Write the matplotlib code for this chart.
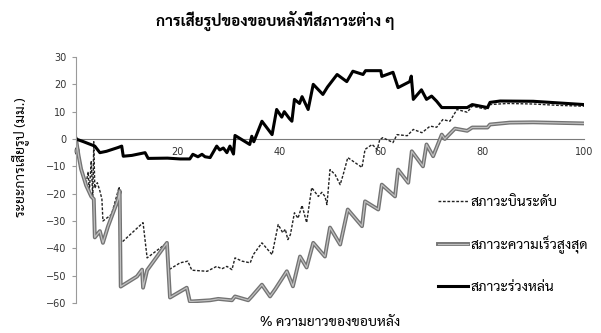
import matplotlib
matplotlib.use("Agg")
import matplotlib.pyplot as plt
import matplotlib.patheffects as pe

thai = ["Sarabun", "DejaVu Sans"]

# % of trailing-edge length vs. deformation (mm) for three flight conditions
level_x = [0, 0.5, 1, 1.5, 2, 2.4, 2.6, 3, 3.3, 3.5, 3.7, 4.2, 4.7, 5.1, 5.3, 7,
           8.5, 8.7, 8.9, 13.2, 14, 17.9, 18.3, 20.5, 22, 22.8, 25.8, 27.7, 28.7,
           29.7, 30.7, 31.3, 32.7, 34.3, 34.9, 36.6, 38.6, 39.8, 40.7, 41.2, 41.7,
           42.2, 43, 43.7, 44.5, 45.4, 46.4, 47.7, 48.4, 49, 49.4, 50, 51, 52,
           52.6, 53.5, 56.3, 56.9, 58.3, 59.3, 59.8, 60.4, 62.4, 63.2, 65.2, 66.4,
           68.1, 69.7, 71, 72.2, 73.6, 75, 77, 78, 81, 81.5, 85, 90, 95, 100]
level_y = [0, -5, -10, -14, -16, -12, -20, -8, -22, -1, -18, -16, -19, -22, -30,
           -27.6, -17.5, -26, -38, -30.6, -43.5, -38, -47.8, -45.3, -44.7, -48,
           -48.4, -46.6, -47.5, -46.6, -47.8, -43.5, -44.7, -45.3, -42.3, -38,
           -42.3, -31.3, -34.3, -33, -36.8, -35, -27, -29, -24.3, -30.6, -17.8,
           -21, -19.5, -21, -24, -11.2, -13, -16.7, -13, -6.8, -10.4, -3.8, -2,
           -3.8, -0.2, 0.5, -1.3, 1.6, 1.2, 3.5, 2.3, 4.7, 4.3, 7.1, 6.5, 10.8,
           9.8, 12, 10.8, 12.6, 13, 12.8, 12.3, 12]

vmax_x = [0, 0.5, 1, 1.5, 2, 2.5, 3, 3.5, 3.7, 4.7, 5.3, 6.3, 8.3, 8.6, 8.8, 12,
          13, 13.2, 14, 17.9, 18.5, 21.8, 22.4, 23, 26.4, 28, 30.7, 31.3, 33.9,
          34.6, 36.6, 38.2, 39.2, 41.5, 42.7, 44.1, 45.4, 46.7, 49, 50, 52, 53.5,
          56.3, 56.9, 59.5, 60.2, 62.8, 63.4, 65.4, 66.1, 68.3, 69, 70.3, 72,
          72.6, 74.6, 77, 78, 81, 81.5, 85.4, 90, 95, 100]
vmax_y = [0, -6, -11, -14, -17, -19, -21, -22, -36, -33.7, -38, -32, -22, -19,
          -54, -50.3, -47.8, -54.4, -48, -38, -58, -54.4, -59.4, -59.4, -59,
          -58.5, -59, -57.6, -59, -57.6, -53.3, -57.6, -55, -48.4, -53.9, -43,
          -47, -38, -43, -32.4, -38.6, -25.8, -31.9, -22.8, -25.8, -16.7, -21,
          -11.2, -16, -4.5, -10, -2, -6.3, 1.6, 0, 3.8, 3, 4.2, 4.2, 5.3, 6,
          6.1, 5.9, 5.7]

dive_x = [0, 1.5, 3.7, 4.7, 6, 8.3, 9, 9.3, 11, 13.6, 14.2, 18, 20.5, 22.4, 23,
          24, 24.8, 25.4, 26.4, 27.7, 28.3, 29, 29.7, 30.3, 31, 31.3, 34.2, 34.6,
          35, 36.6, 38.6, 39.5, 40.5, 41, 42, 42.5, 43, 44, 44.5, 45.7, 46.7,
          48.6, 49.5, 51.4, 53.3, 54.5, 56.5, 57, 60, 60.2, 62.4, 63.4, 65.7, 66,
          66.4, 68, 69, 70, 71, 72, 77, 78, 81, 81.5, 83.5, 90, 95, 100]
dive_y = [0, -1, -2.6, -5, -4.5, -3.1, -2.6, -6.3, -6, -5, -7.1, -7, -7.3, -7.3,
          -5.6, -6.5, -5.6, -6.5, -6.8, -2.6, -4, -3.3, -5, -2.6, -5.5, 1.3, -2,
          1, -1, 6.5, 1.6, 10.8, 8, 10, 7.5, 6.5, 14.5, 13, 15.5, 10.8, 20, 16.3,
          19, 23.6, 21, 24.8, 23.6, 25, 25, 22.9, 24.4, 18.8, 21, 23, 14.5, 18,
          14.5, 15.7, 13.8, 11.5, 11.5, 12.6, 11.5, 13.4, 13.9, 13.8, 13.2, 12.6]

labels = ["สภาวะบินระดับ", "สภาวะความเร็วสูงสุด", "สภาวะร่วงหล่น"]

fig = plt.figure(figsize=(6.01, 3.33), dpi=100)
ax = fig.add_axes([76 / 601, 1 - 303 / 333, 508 / 601, 246 / 333])

ax.plot(level_x, level_y, color="#222222", lw=1.0, ls=(0, (2, 1.2)),
        label=labels[0])
ax.plot(vmax_x, vmax_y, color="#c0c0c0", lw=0.9, label=labels[1],
        path_effects=[pe.Stroke(linewidth=2.8, foreground="#737373"), pe.Normal()])
ax.plot(dive_x, dive_y, color="black", lw=2.2, label=labels[2])

ax.set_xlim(0, 100)
ax.set_ylim(-60, 30)
ax.set_xticks(range(0, 101, 20))
ax.set_yticks(range(-60, 31, 10))

for s in ["top", "right"]:
    ax.spines[s].set_visible(False)
ax.spines["left"].set_color("#9a9a9a")
ax.spines["bottom"].set_position(("data", 0))
ax.spines["bottom"].set_color("#7a7a7a")
ax.spines["bottom"].set_zorder(0.5)
ax.tick_params(axis="x", length=0, pad=6, labelsize=7, labelcolor="#333333")
ax.tick_params(axis="y", length=3, color="#9a9a9a", pad=4, labelsize=7,
               labelcolor="#333333")

fig.text(275 / 601, 1 - 21 / 333, "การเสียรูปของขอบหลังที่สภาวะต่าง ๆ",
         ha="center", va="center", fontsize=11, fontweight="bold", family=thai)
fig.text(20 / 601, 1 - 157 / 333, "ระยะการเสียรูป (มม.)", rotation=90,
         ha="center", va="center", fontsize=10, family=thai)
fig.text(330 / 601, 1 - 323 / 333, "% ความยาวของขอบหลัง",
         ha="center", va="center", fontsize=10, family=thai)

ax.legend(loc="upper left", bbox_to_anchor=(432 / 601, 1 - 190 / 333),
          bbox_transform=fig.transFigure, frameon=False,
          prop={"family": thai, "size": 10}, handlelength=2.2,
          handletextpad=0.15, labelspacing=1.95, borderaxespad=0)

fig.savefig("out.png", dpi=100)
